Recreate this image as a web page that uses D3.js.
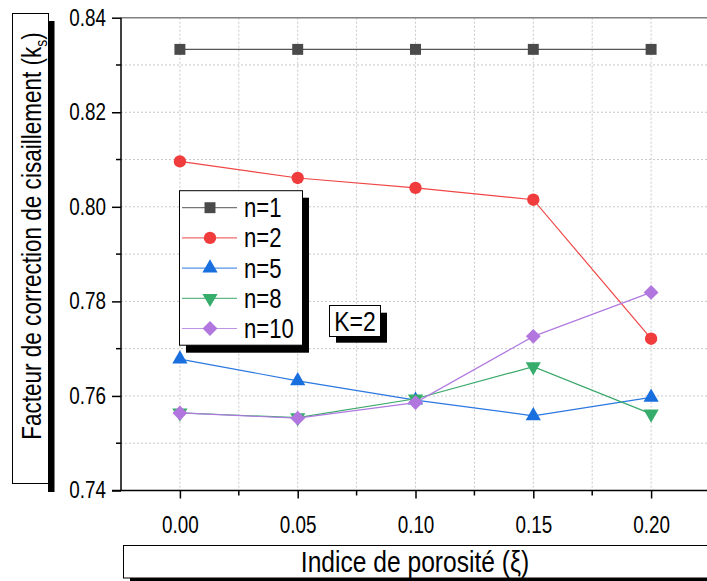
<!DOCTYPE html>
<html>
<head>
<meta charset="utf-8">
<script src="https://cdn.jsdelivr.net/npm/d3@7"></script>
<style>
  body { margin: 0; background: #fff; }
  text { font-family: "Liberation Sans", Arial, sans-serif; }
</style>
</head>
<body>
<script>
var porosity = [0.00, 0.05, 0.10, 0.15, 0.20];
var n1 = [0.8333, 0.8333, 0.8333, 0.8333, 0.8333];
var n2 = [0.8096, 0.8061, 0.8040, 0.8015, 0.7721];
var n5 = [0.7678, 0.7632, 0.7591, 0.7558, 0.7597];
var n8 = [0.7564, 0.7554, 0.7594, 0.7662, 0.7562];
var n10 = [0.7564, 0.7553, 0.7586, 0.7726, 0.7819];
var seriesNames = ["n=1", "n=2", "n=5", "n=8", "n=10"];
var xTicks = [0.00, 0.05, 0.10, 0.15, 0.20];
var yTicks = [0.74, 0.76, 0.78, 0.80, 0.82, 0.84];

var W = 707, H = 581;
var NARROW = 0.82; // the reference uses a narrow sans, squeeze Liberation Sans
var svg = d3.select("body").append("svg").attr("width", W).attr("height", H);

var x = d3.scaleLinear().domain([-0.025, 0.225]).range([121, 710]);
var y = d3.scaleLinear().domain([0.74, 0.84]).range([490.5, 17.7]);

// grid (major + minor)
var gx = d3.range(-0.025, 0.2251, 0.025);
var gy = d3.range(0.74, 0.8401, 0.01);
svg.append("g").selectAll("line").data(gx.slice(1)).enter().append("line")
  .attr("x1", function(d) { return x(d); }).attr("x2", function(d) { return x(d); })
  .attr("y1", y(0.84)).attr("y2", y(0.74))
  .attr("stroke", "#c8c8c8").attr("stroke-width", 1).attr("stroke-dasharray", "2,2");
svg.append("g").selectAll("line").data(gy.slice(1, -1)).enter().append("line")
  .attr("y1", function(d) { return y(d); }).attr("y2", function(d) { return y(d); })
  .attr("x1", x(-0.025)).attr("x2", W)
  .attr("stroke", "#c8c8c8").attr("stroke-width", 1).attr("stroke-dasharray", "2,2");

// top border
svg.append("line").attr("x1", x(-0.025)).attr("x2", W).attr("y1", y(0.84)).attr("y2", y(0.84))
  .attr("stroke", "#808080").attr("stroke-width", 1.5);

// axes
var yAxis = d3.axisLeft(y).tickValues(yTicks).tickFormat(d3.format(".2f")).tickSize(9).tickPadding(6);
var gyA = svg.append("g").attr("transform", "translate(" + x(-0.025) + ",0)").call(yAxis);
var xAxis = d3.axisBottom(x).tickValues(xTicks).tickFormat(d3.format(".2f")).tickSize(8).tickPadding(18);
var gxA = svg.append("g").attr("transform", "translate(0," + y(0.74) + ")").call(xAxis);
[gyA, gxA].forEach(function(g) {
  g.select(".domain").remove();
  g.selectAll("line").attr("stroke", "#000").attr("stroke-width", 1.5);
  g.selectAll("text").attr("font-size", 23).attr("fill", "#000")
    .style("font-family", "'Liberation Sans', Arial, sans-serif");
});
gxA.selectAll("text").attr("transform", "scale(" + NARROW + ",1)");
gyA.selectAll("text").attr("transform", "translate(-15,0) scale(" + NARROW + ",1) translate(15,0)");

// minor ticks
svg.append("g").selectAll("line").data([0.75, 0.77, 0.79, 0.81, 0.83]).enter().append("line")
  .attr("x1", x(-0.025) - 5).attr("x2", x(-0.025))
  .attr("y1", function(d) { return y(d); }).attr("y2", function(d) { return y(d); })
  .attr("stroke", "#000").attr("stroke-width", 1.5);
svg.append("g").selectAll("line").data([0.025, 0.075, 0.125, 0.175]).enter().append("line")
  .attr("x1", function(d) { return x(d); }).attr("x2", function(d) { return x(d); })
  .attr("y1", y(0.74)).attr("y2", y(0.74) + 5)
  .attr("stroke", "#000").attr("stroke-width", 1.5);
svg.append("line").attr("x1", x(-0.025)).attr("x2", x(-0.025)).attr("y1", y(0.84)).attr("y2", y(0.74))
  .attr("stroke", "#000").attr("stroke-width", 1.5);
svg.append("line").attr("x1", x(-0.025) - 9).attr("x2", W).attr("y1", y(0.74)).attr("y2", y(0.74))
  .attr("stroke", "#000").attr("stroke-width", 1.5);

// series
var allData = [n1, n2, n5, n8, n10];
var lineColors = ["#555555", "#f04646", "#2a78e0", "#3aa86a", "#b07ae0"];
var markColors = ["#4a4a4a", "#f03c3c", "#1a6fdf", "#37ad6b", "#b177de"];
var symbols = [d3.symbolSquare, d3.symbolCircle, d3.symbolTriangle, "down", d3.symbolDiamond];
var symSizes = [120, 120, 100, 100, 110];

function marker(g, i, cx, cy) {
  if (symbols[i] === "down") {
    g.append("path").attr("d", d3.symbol().type(d3.symbolTriangle).size(symSizes[i])())
      .attr("transform", "translate(" + cx + "," + cy + ") rotate(180)")
      .attr("fill", markColors[i]);
  } else if (symbols[i] === d3.symbolDiamond) {
    g.append("path").attr("d", d3.symbol().type(d3.symbolSquare).size(symSizes[i])())
      .attr("transform", "translate(" + cx + "," + cy + ") rotate(45)")
      .attr("fill", markColors[i]);
  } else {
    g.append("path").attr("d", d3.symbol().type(symbols[i]).size(symSizes[i])())
      .attr("transform", "translate(" + cx + "," + cy + ")")
      .attr("fill", markColors[i]);
  }
}

var line = d3.line().x(function(d, i) { return x(porosity[i]); }).y(function(d) { return y(d); });
allData.forEach(function(vals, i) {
  var g = svg.append("g");
  g.append("path").datum(vals).attr("d", line)
    .attr("fill", "none").attr("stroke", lineColors[i]).attr("stroke-width", 1.2);
  vals.forEach(function(v, j) { marker(g, i, x(porosity[j]), y(v)); });
});

function narrowText(parent, tx, ty, size, str, anchor) {
  return parent.append("text")
    .attr("transform", "translate(" + tx + "," + ty + ") scale(" + NARROW + ",1)")
    .attr("text-anchor", anchor || "start").attr("font-size", size).text(str);
}

// legend
var lg = svg.append("g");
lg.append("rect").attr("x", 186).attr("y", 197.7).attr("width", 123).attr("height", 155).attr("fill", "#000");
lg.append("rect").attr("x", 179.5).attr("y", 190.7).attr("width", 123).attr("height", 154.5)
  .attr("fill", "#fff").attr("stroke", "#000").attr("stroke-width", 1);
seriesNames.forEach(function(name, i) {
  var ly = 207.7 + i * 30.2;
  lg.append("line").attr("x1", 182).attr("x2", 237).attr("y1", ly).attr("y2", ly)
    .attr("stroke", lineColors[i]).attr("stroke-width", 1.2).attr("opacity", 0.8);
  marker(lg, i, 210, ly);
  narrowText(lg, 244, ly + 9.5, 27, name);
});

// K=2 box
svg.append("rect").attr("x", 336).attr("y", 312.7).attr("width", 51).attr("height", 30).attr("fill", "#000");
svg.append("rect").attr("x", 329.5).attr("y", 305.5).attr("width", 51).attr("height", 31)
  .attr("fill", "#fff").attr("stroke", "#000").attr("stroke-width", 1);
narrowText(svg, 355, 331, 28, "K=2", "middle");

// y title box
svg.append("rect").attr("x", 48).attr("y", 21).attr("width", 6.5).attr("height", 471).attr("fill", "#000");
svg.append("rect").attr("x", 12.5).attr("y", 13.5).attr("width", 36).attr("height", 470)
  .attr("fill", "#fff").attr("stroke", "#000").attr("stroke-width", 1);
var yt = svg.append("text")
  .attr("transform", "translate(40.5,236) rotate(-90) scale(" + NARROW + ",1)")
  .attr("text-anchor", "middle").attr("font-size", 27.5);
yt.append("tspan").text("Facteur de correction de cisaillement (k");
yt.append("tspan").attr("font-size", 17).attr("dy", 6).text("s");
yt.append("tspan").attr("dy", -6).text(")");

// x title box
svg.append("rect").attr("x", 130).attr("y", 578).attr("width", W).attr("height", 6).attr("fill", "#000");
svg.append("rect").attr("x", 123.5).attr("y", 545.5).attr("width", W).attr("height", 32.5)
  .attr("fill", "#fff").attr("stroke", "#000").attr("stroke-width", 1);
narrowText(svg, 415, 572, 30, "Indice de porosité (ξ)", "middle");
</script>
</body>
</html>
